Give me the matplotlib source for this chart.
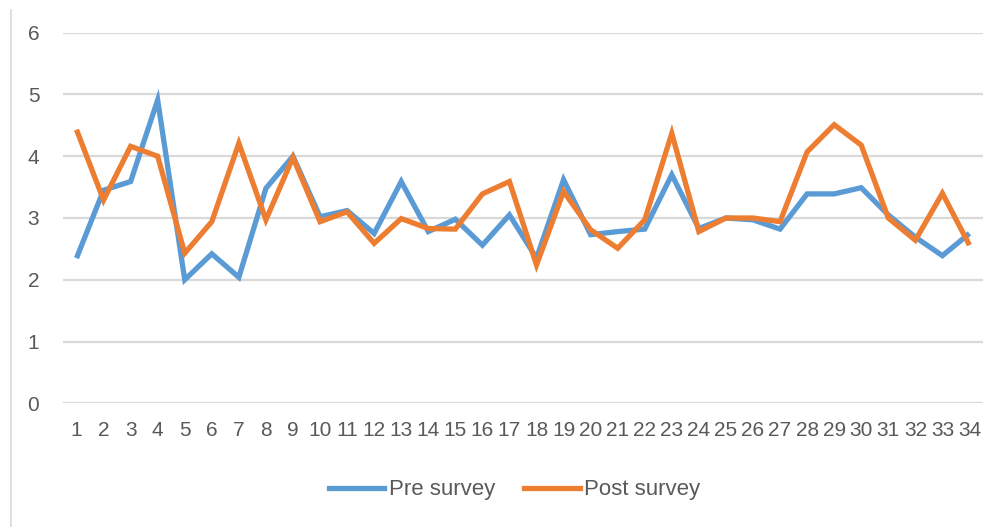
import matplotlib
matplotlib.use("Agg")
import matplotlib.pyplot as plt
from matplotlib.lines import Line2D

# survey item number 1..34
items = list(range(1, 35))
pre_survey = [2.35, 3.45, 3.59, 4.91, 2.00, 2.42, 2.04, 3.48, 4.00, 3.02,
              3.12, 2.75, 3.59, 2.78, 2.98, 2.56, 3.05, 2.35, 3.62, 2.73,
              2.78, 2.82, 3.70, 2.83, 3.00, 2.97, 2.82, 3.39, 3.39, 3.49,
              3.05, 2.69, 2.39, 2.75]
post_survey = [4.43, 3.29, 4.16, 4.00, 2.43, 2.94, 4.21, 2.97, 3.98, 2.94,
               3.10, 2.59, 2.99, 2.83, 2.82, 3.39, 3.59, 2.24, 3.43, 2.81,
               2.51, 2.97, 4.37, 2.78, 3.00, 3.00, 2.94, 4.07, 4.51, 4.18,
               3.00, 2.64, 3.40, 2.56]
y_ticks = [0, 1, 2, 3, 4, 5, 6]

BLUE = "#5B9BD5"
ORANGE = "#ED7D31"
GRID = "#D9D9D9"
LABEL = "#595959"

plt.rcParams["font.family"] = ["Liberation Sans", "DejaVu Sans"]

fig = plt.figure(figsize=(10.01, 5.27), dpi=100)
ax = fig.add_axes([0.0629, 0.2347, 0.9191, 0.7033])

ax.plot(items, pre_survey, color=BLUE, lw=3.8, solid_joinstyle="miter",
        solid_capstyle="butt", zorder=3)
ax.plot(items, post_survey, color=ORANGE, lw=3.8, solid_joinstyle="miter",
        solid_capstyle="butt", zorder=4)

ax.set_xlim(0.5, 34.5)
ax.set_ylim(0, 6)
ax.set_yticks(y_ticks)
ax.set_xticks(items)
ax.tick_params(length=0, labelsize=15, labelcolor=LABEL)
ax.tick_params(axis="y", pad=17)
ax.tick_params(axis="x", pad=13)
ax.yaxis.grid(True, color=GRID, lw=1.6, zorder=0)
ax.set_axisbelow(True)
for s in ax.spines.values():
    s.set_visible(False)

# thin border line at the left edge of the chart area
fig.add_artist(Line2D([11 / 1001, 11 / 1001], [0, 517 / 527],
                      transform=fig.transFigure, color=GRID, lw=1.2))

handles = [Line2D([0], [0], color=BLUE, lw=3.8),
           Line2D([0], [0], color=ORANGE, lw=3.8)]
fig.legend(handles, ["Pre survey", "Post survey"], loc="center",
           bbox_to_anchor=(0.514, 1 - 490 / 527), ncol=2, frameon=False,
           fontsize=16, labelcolor=LABEL, handlelength=2.5,
           handletextpad=0.2, columnspacing=1.3)

fig.savefig("out.png", dpi=100)
